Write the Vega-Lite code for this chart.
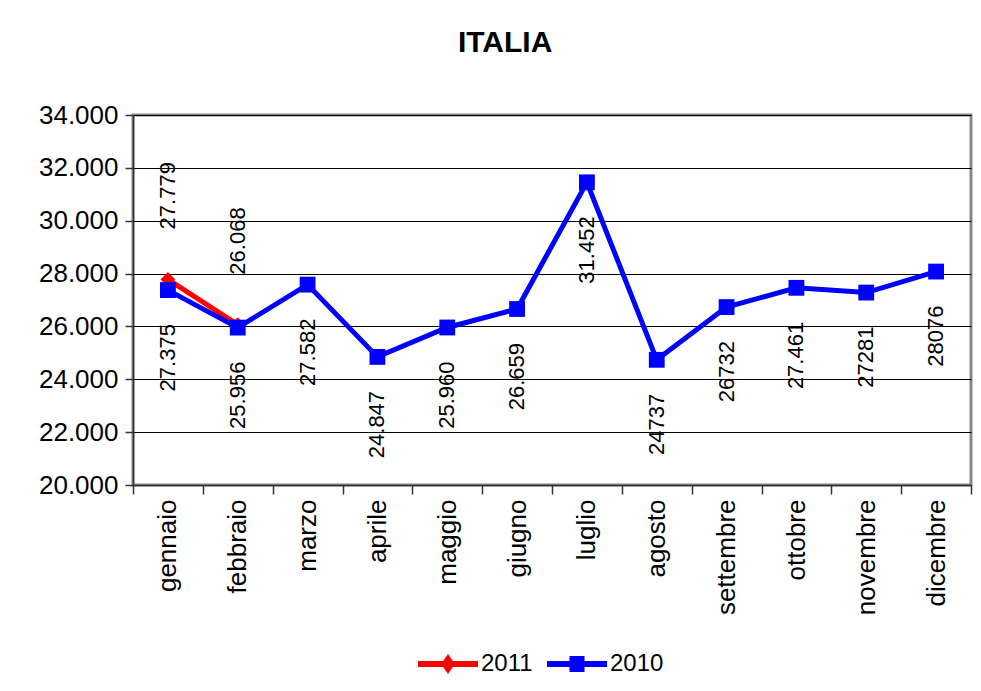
{
  "$schema": "https://vega.github.io/schema/vega-lite/v6.json",
  "width": 838,
  "height": 370,
  "padding": {"left": 38, "top": 28, "right": 8, "bottom": 5},
  "background": "white",
  "title": {
    "text": "ITALIA",
    "fontSize": 30,
    "fontWeight": "bold",
    "font": "Liberation Sans",
    "color": "black",
    "anchor": "middle",
    "frame": "bounds",
    "offset": 44
  },
  "data": {
    "values": [
      {"month": "gennaio", "series": "2011", "value": 27779, "label": "27.779"},
      {"month": "febbraio", "series": "2011", "value": 26068, "label": "26.068"},
      {"month": "gennaio", "series": "2010", "value": 27375, "label": "27.375"},
      {"month": "febbraio", "series": "2010", "value": 25956, "label": "25.956"},
      {"month": "marzo", "series": "2010", "value": 27582, "label": "27.582"},
      {"month": "aprile", "series": "2010", "value": 24847, "label": "24.847"},
      {"month": "maggio", "series": "2010", "value": 25960, "label": "25.960"},
      {"month": "giugno", "series": "2010", "value": 26659, "label": "26.659"},
      {"month": "luglio", "series": "2010", "value": 31452, "label": "31.452"},
      {"month": "agosto", "series": "2010", "value": 24737, "label": "24737"},
      {"month": "settembre", "series": "2010", "value": 26732, "label": "26732"},
      {"month": "ottobre", "series": "2010", "value": 27461, "label": "27.461"},
      {"month": "novembre", "series": "2010", "value": 27281, "label": "27281"},
      {"month": "dicembre", "series": "2010", "value": 28076, "label": "28076"}
    ]
  },
  "encoding": {
    "x": {
      "field": "month",
      "type": "nominal",
      "sort": ["gennaio","febbraio","marzo","aprile","maggio","giugno","luglio","agosto","settembre","ottobre","novembre","dicembre"],
      "scale": {"type": "band", "paddingInner": 0, "paddingOuter": 0},
      "axis": {
        "title": null,
        "labelAngle": -90,
        "labelFontSize": 26,
        "labelFont": "Liberation Sans",
        "labelColor": "black",
        "labelPadding": 5,
        "tickBand": "extent",
        "tickSize": 9,
        "tickColor": "#333333",
        "tickWidth": 1.5,
        "domainColor": "#333333",
        "domainWidth": 1.5,
        "grid": false
      }
    },
    "y": {
      "field": "value",
      "type": "quantitative",
      "scale": {"domain": [20000, 34000], "nice": false, "zero": false},
      "axis": {
        "title": null,
        "values": [20000, 22000, 24000, 26000, 28000, 30000, 32000, 34000],
        "labelExpr": "replace(format(datum.value, ','), ',', '.')",
        "labelFontSize": 26,
        "labelFont": "Liberation Sans",
        "labelColor": "black",
        "labelPadding": 7,
        "tickSize": 8,
        "tickColor": "#333333",
        "tickWidth": 1.5,
        "domainColor": "#333333",
        "domainWidth": 1.5,
        "grid": true,
        "gridColor": "black",
        "gridWidth": 1,
        "gridOpacity": 1
      }
    },
    "color": {
      "field": "series",
      "type": "nominal",
      "scale": {"domain": ["2011", "2010"], "range": ["#ff0000", "#0000ff"]},
      "legend": {
        "title": null,
        "orient": "none",
        "legendX": 285,
        "legendY": 519,
        "direction": "horizontal",
        "labelFontSize": 24,
        "labelFont": "Liberation Sans",
        "labelColor": "black",
        "labelOffset": 3,
        "symbolSize": 3600,
        "columnPadding": 14,
        "encode": {
          "symbols": {
            "update": {
              "shape": {"signal": "datum.value === '2011' ? 'M-1,-0.1L1,-0.1L1,0.1L-1,0.1Z M0,-0.33L0.23,0L0,0.33L-0.23,0Z' : 'M-1,-0.1L1,-0.1L1,0.1L-1,0.1Z M-0.25,-0.27L0.25,-0.27L0.25,0.27L-0.25,0.27Z'"},
              "fill": {"signal": "datum.value === '2011' ? '#ff0000' : '#0000ff'"},
              "fillOpacity": {"value": 1},
              "strokeWidth": {"value": 0},
              "opacity": {"value": 1}
            }
          }
        }
      }
    }
  },
  "layer": [
    {
      "transform": [{"filter": "datum.series === '2011'"}],
      "mark": {"type": "line", "strokeWidth": 5}
    },
    {
      "transform": [{"filter": "datum.series === '2011'"}],
      "mark": {"type": "point", "shape": "diamond", "filled": true, "size": 220, "opacity": 1}
    },
    {
      "transform": [{"filter": "datum.series === '2010'"}],
      "mark": {"type": "line", "strokeWidth": 5}
    },
    {
      "transform": [{"filter": "datum.series === '2010'"}],
      "mark": {"type": "point", "shape": "square", "filled": true, "size": 250, "opacity": 1}
    },
    {
      "transform": [{"filter": "datum.series === '2010'"}],
      "mark": {"type": "text", "angle": 270, "align": "right", "baseline": "middle", "dx": -34, "fontSize": 22, "font": "Liberation Sans", "color": "black"},
      "encoding": {"text": {"field": "label"}, "color": {"value": "black"}}
    },
    {
      "transform": [{"filter": "datum.series === '2011'"}],
      "mark": {"type": "text", "angle": 270, "align": "left", "baseline": "middle", "dx": 50, "fontSize": 22, "font": "Liberation Sans", "color": "black"},
      "encoding": {"text": {"field": "label"}, "color": {"value": "black"}}
    }
  ],
  "config": {
    "view": {"stroke": "#888888", "strokeWidth": 3}
  }
}
